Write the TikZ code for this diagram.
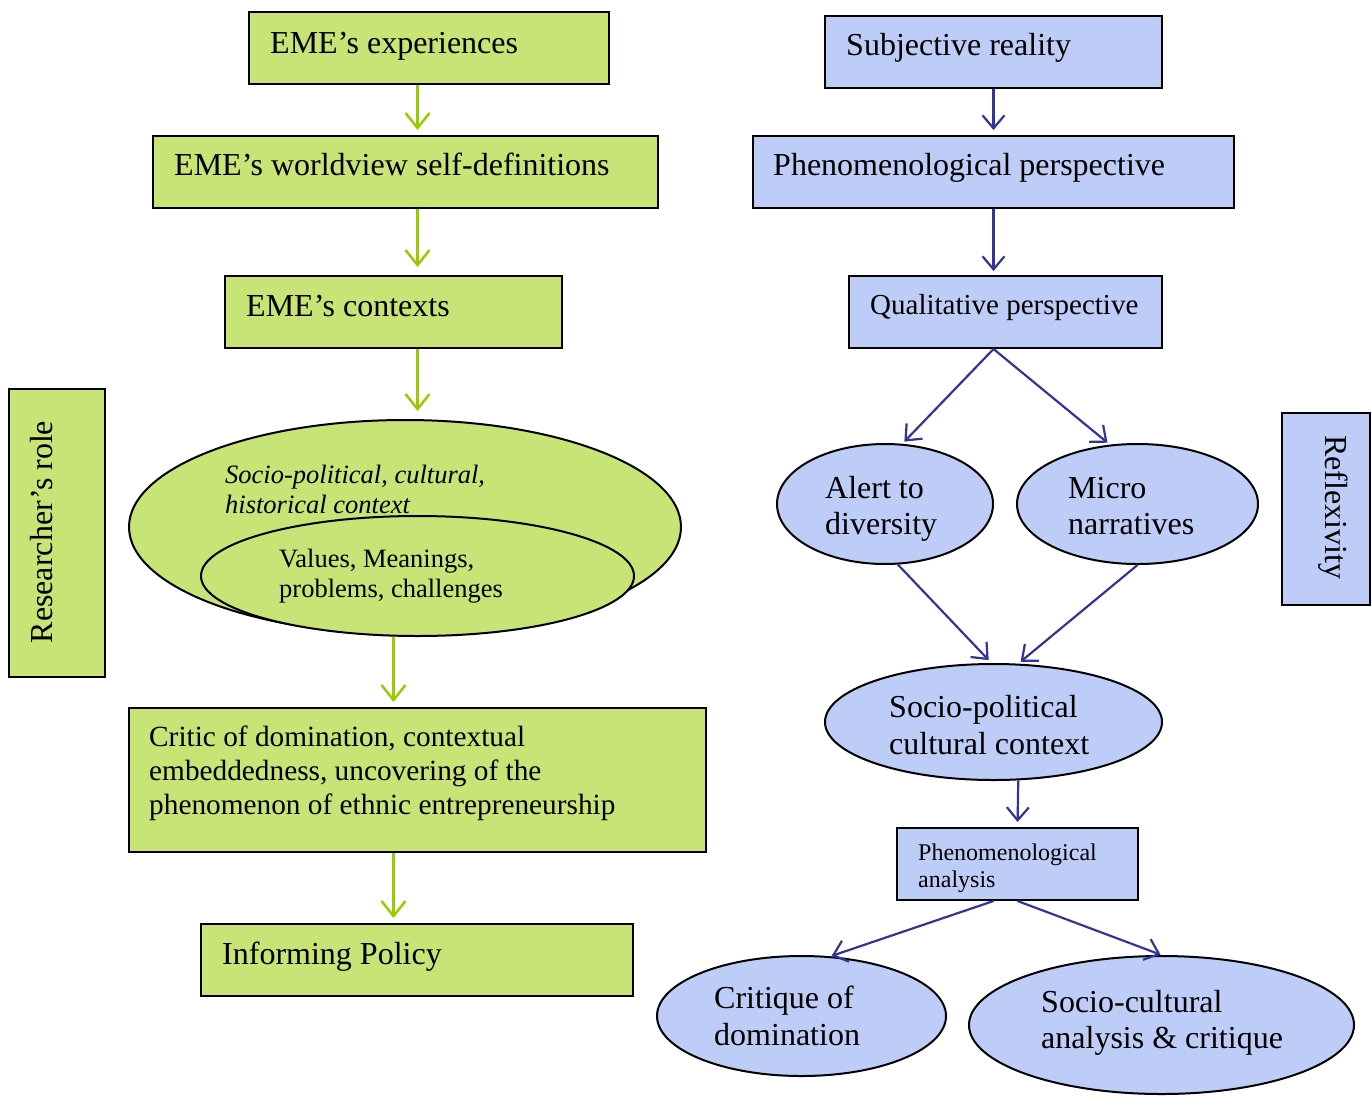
\documentclass[tikz,border=0pt]{standalone}
\usepackage{fontspec}
\setmainfont{Liberation Serif}
\usetikzlibrary{shapes.geometric,arrows.meta,calc}
\definecolor{gfill}{RGB}{200,227,118}
\definecolor{bfill}{RGB}{190,205,248}
\definecolor{garr}{RGB}{153,204,0}
\definecolor{barr}{RGB}{51,51,153}
\begin{document}
\begin{tikzpicture}[x=1pt,y=-1pt,
  gbox/.style={draw=black, line width=2pt, fill=gfill, rectangle, inner sep=0pt},
  bbox/.style={draw=black, line width=2pt, fill=bfill, rectangle, inner sep=0pt},
  gell/.style={draw=black, line width=2pt, fill=gfill, ellipse, inner sep=0pt},
  bell/.style={draw=black, line width=2pt, fill=bfill, ellipse, inner sep=0pt},
  txt/.style={inner sep=0pt, anchor=base west, align=left},
  big/.style={font=\fontsize{32}{36}\selectfont},
  garrow/.style={draw=garr, line width=2.5pt, -{Straight Barb[length=15pt,width=24pt]}},
  barrow/.style={draw=barr, line width=2.2pt, -{Straight Barb[length=13pt,width=22pt]}},
]
\useasboundingbox (0,0) rectangle (1372,1095);

% ---------- left column ----------
\node[gbox, minimum width=360, minimum height=72] (exp) at (429,48) {};
\node[gbox, minimum width=505, minimum height=72] (wv) at (405.5,172) {};
\node[gbox, minimum width=337, minimum height=72] (cxb) at (393.5,312) {};
\node[gell, minimum width=552, minimum height=214] (outer) at (405,527) {};
\node[gell, minimum width=433, minimum height=120] (inner) at (417.5,576) {};
\node[gbox, minimum width=96, minimum height=288] (role) at (57,533) {};
\node[gbox, minimum width=577, minimum height=144] (critic) at (417.5,780) {};
\node[gbox, minimum width=432, minimum height=72] (policy) at (417,960) {};

% ---------- right column ----------
\node[bbox, minimum width=337, minimum height=72] (subj) at (993.5,52) {};
\node[bbox, minimum width=481, minimum height=72] (phen) at (993.5,172) {};
\node[bbox, minimum width=313, minimum height=72] (qual) at (1005.5,312) {};
\node[bell, minimum width=216, minimum height=120] (alert) at (885,504) {};
\node[bell, minimum width=241, minimum height=120] (micro) at (1137.5,504) {};
\node[bbox, minimum width=88, minimum height=192] (refl) at (1326,509) {};
\node[bell, minimum width=337, minimum height=116] (ctx) at (993.5,722) {};
\node[bbox, minimum width=241, minimum height=72] (ana) at (1017.5,864) {};
\node[bell, minimum width=289, minimum height=120] (critq) at (801.5,1016) {};
\node[bell, minimum width=385, minimum height=138] (sc) at (1161.5,1025) {};

% ---------- green connectors ----------
\draw[garrow, shorten >=5pt] (critic.north |- exp.south) -- (critic.north |- wv.north);
\draw[garrow, shorten >=8pt] (critic.north |- wv.south) -- (critic.north |- cxb.north);
\draw[garrow, shorten >=8pt] (critic.north |- cxb.south) -- (critic.north |- outer.north);
\draw[garrow, shorten >=5pt] (cxb.south |- inner.south) -- (cxb.south |- critic.north);
\draw[garrow, shorten >=5pt] (cxb.south |- critic.south) -- (cxb.south |- policy.north);

% ---------- blue connectors ----------
\draw[barrow, shorten >=5pt] (subj.south) -- (phen.north);
\draw[barrow, shorten >=4pt] (phen.south) -- (phen.south |- qual.north);
\draw[barrow, shorten >=3pt] (qual.south -| phen.south) -- (alert.74);
\draw[barrow, shorten >=3pt] (qual.south -| phen.south) -- (micro.115);
\draw[barrow, shorten >=4pt] (alert.-78) -- (ctx.92);
\draw[barrow, shorten >=3pt] (micro.south) -- (ctx.67);
\draw[barrow, shorten >=5pt] (ctx.-67) -- (ana.north);
\draw[barrow, shorten >=1pt] (ana.south -| ctx.south) -- (critq.64);
\draw[barrow, shorten >=1pt] (ana.south) -- (sc.north);

% ---------- texts (multi-line nodes sit on their last baseline) ----------
\node[txt, big] (exp-t) at (270,53) {EME’s experiences};
\node[txt, big] (wv-t) at (174,175) {EME’s worldview self-definitions};
\node[txt, big] (cxb-t) at (246,316) {EME’s contexts};
\node[txt, font=\fontsize{26.5}{30}\selectfont\itshape] (outer-t) at (225,513)
  {Socio-political, cultural,\\historical context};
\node[txt, font=\fontsize{26.5}{30}\selectfont] (inner-t) at (279,597)
  {Values, Meanings,\\problems, challenges};
\node[inner sep=0pt, anchor=base, rotate=90, big] (role-t) at (52,532) {Researcher’s role};
\node[txt, font=\fontsize{29.3}{34}\selectfont] (critic-t) at (149,814)
  {Critic of domination, contextual\\embeddedness, uncovering of the\\phenomenon of ethnic entrepreneurship};
\node[txt, big] (policy-t) at (222,964) {Informing Policy};

\node[txt, big] (subj-t) at (846,55) {Subjective reality};
\node[txt, big] (phen-t) at (773,175) {Phenomenological perspective};
\node[txt, font=\fontsize{29}{34}\selectfont] (qual-t) at (870,314) {Qualitative perspective};
\node[txt, font=\fontsize{32}{36}\selectfont] (alert-t) at (825,534) {Alert to\\diversity};
\node[txt, font=\fontsize{32}{36}\selectfont] (micro-t) at (1068,534) {Micro\\narratives};
\node[inner sep=0pt, anchor=base, rotate=-90, big] (refl-t) at (1325,507) {Reflexivity};
\node[txt, font=\fontsize{32}{37}\selectfont] (ctx-t) at (889,754) {Socio-political\\cultural context};
\node[txt, font=\fontsize{24}{27}\selectfont] (ana-t) at (918,887) {Phenomenological\\analysis};
\node[txt, font=\fontsize{32}{37}\selectfont] (critq-t) at (714,1045) {Critique of\\domination};
\node[txt, font=\fontsize{32}{36}\selectfont] (sc-t) at (1041,1048) {Socio-cultural\\analysis \& critique};
\end{tikzpicture}
\end{document}
